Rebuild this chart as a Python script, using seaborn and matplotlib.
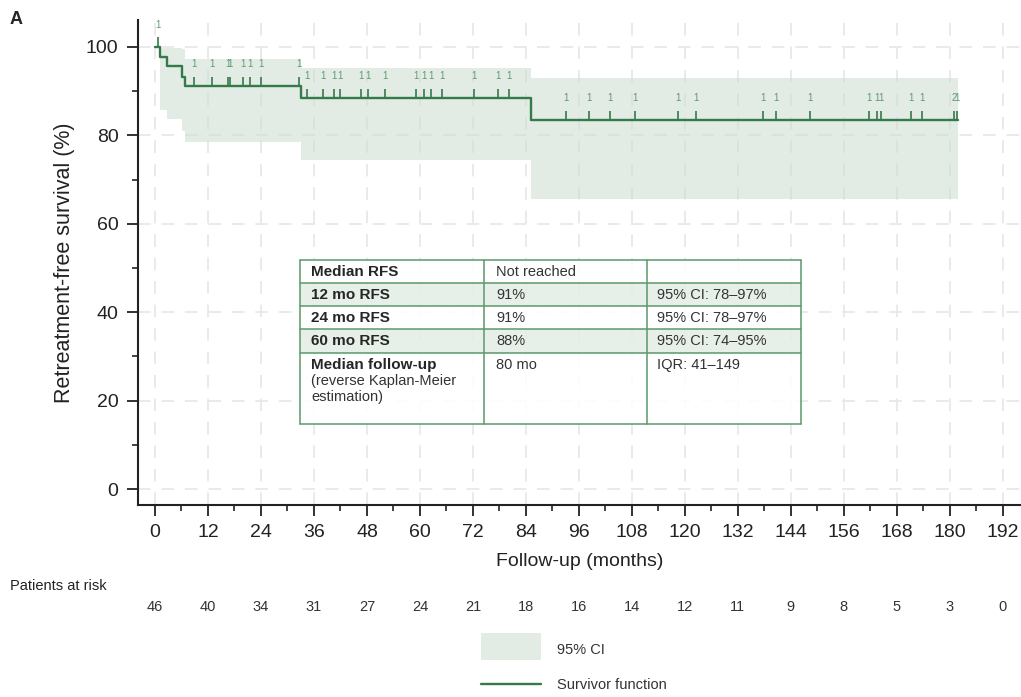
import numpy as np
import pandas as pd
import seaborn as sns
import matplotlib.pyplot as plt
from matplotlib.patches import Rectangle
from matplotlib.lines import Line2D
from matplotlib.ticker import MultipleLocator

# Survivor function (steps)
step_time = [0, 1.2, 2.75, 6.1, 6.7, 33.0, 85.1, 181.8]
step_surv = [100, 97.8, 95.6, 93.3, 91.1, 88.4, 83.4, 83.4]

# 95% CI band
ci_time = [1.2, 2.75, 6.1, 6.7, 33.0, 85.1, 181.8]
ci_upper = [99.8, 99.8, 99.6, 97.2, 95.2, 92.9, 92.9]
ci_lower = [85.7, 83.6, 81.0, 78.4, 74.4, 65.5, 65.5]

# Censored observations
censor_time = [0.6, 8.8, 13.0, 16.5, 16.9, 19.9, 21.5, 24.0, 32.7,
               34.4, 38.1, 40.6, 41.9, 46.6, 48.3, 52.0, 59.0, 60.9, 62.4, 65.1, 72.3, 77.6, 80.1,
               93.0, 98.3, 103.0, 108.6, 118.5, 122.6, 137.7, 140.6, 148.4,
               161.7, 163.5, 164.3, 171.3, 173.7, 181.0, 181.6]
censor_count = [1] * 37 + [2, 1]

risk_months = list(range(0, 193, 12))
at_risk = [46, 40, 34, 31, 27, 24, 21, 18, 16, 14, 12, 11, 9, 8, 5, 3, 0]

table_rows = [
    ("Median RFS", "", "Not reached", ""),
    ("12 mo RFS", "", "91%", "95% CI: 78\u201397%"),
    ("24 mo RFS", "", "91%", "95% CI: 78\u201397%"),
    ("60 mo RFS", "", "88%", "95% CI: 74\u201395%"),
    ("Median follow-up", "(reverse Kaplan-Meier\nestimation)", "80 mo", "IQR: 41\u2013149"),
]

sns.set_theme(style="ticks")
plt.rcParams['font.family'] = ['Liberation Sans', 'DejaVu Sans']

GREEN = "#357a4a"
BAND = "#cfdfd3"
W, H = 1021, 697

fig = plt.figure(figsize=(W / 100, H / 100), dpi=100)
ax = fig.add_axes([138 / W, 1 - 505 / H, (W - 138) / W, (505 - 20) / H])

def fx(px):
    return px / W

def fy(py):
    return 1 - py / H

ax.fill_between(ci_time, ci_lower, ci_upper, step="post", color=BAND, alpha=0.6,
                linewidth=0, zorder=1)
sns.lineplot(x=step_time, y=step_surv, drawstyle="steps-post", estimator=None,
             color=GREEN, linewidth=1.7, ax=ax, zorder=3)

# censor marks
st = np.array(step_time)
for t, c in zip(censor_time, censor_count):
    lvl = step_surv[np.searchsorted(st, t, side="right") - 1]
    ax.vlines(t, lvl, lvl + 2.2, color=GREEN, linewidth=1.2, zorder=3)
    ax.text(t, lvl + 5, str(c), color="#5f9a6e", fontsize=7, ha="center", va="center",
            zorder=3)

ax.set_xlim(-3.85, 196.1)
ax.set_ylim(-3.6, 106.1)
ax.xaxis.set_major_locator(MultipleLocator(12))
ax.xaxis.set_minor_locator(MultipleLocator(6))
ax.yaxis.set_major_locator(MultipleLocator(20))
ax.yaxis.set_minor_locator(MultipleLocator(10))
ax.grid(True, which="major", color="#e8e8e8", linestyle=(0, (7, 6)), linewidth=1.3, zorder=0)
ax.set_axisbelow(True)
for s in ["top", "right"]:
    ax.spines[s].set_visible(False)
for s in ["left", "bottom"]:
    ax.spines[s].set_linewidth(1.5)
    ax.spines[s].set_color("#222222")
ax.tick_params(which="major", length=8, width=1.3, labelsize=14, color="#222222",
               labelcolor="#222222", pad=6)
ax.tick_params(which="minor", length=4.5, width=1.2, color="#222222")
ax.set_xlabel("Follow-up (months)", fontsize=14, labelpad=8, color="#222222")
ax.set_ylabel("Retreatment-free survival (%)", fontsize=15.5, labelpad=8, color="#222222")

# summary table
col_x = [300, 484, 647, 801]
row_y = [260, 283, 306, 329, 353, 424]
shaded = [False, True, False, True, False]
for i, row in enumerate(table_rows):
    y0, y1 = row_y[i], row_y[i + 1]
    fc = "#e4ede6" if shaded[i] else "white"
    fig.patches.append(Rectangle((fx(col_x[0]), fy(y1)), fx(col_x[3] - col_x[0]), (y1 - y0) / H,
                                 transform=fig.transFigure, facecolor=fc, alpha=0.88,
                                 edgecolor="none", zorder=5))
    last = i == len(table_rows) - 1
    ty = y0 + 12 if last else (y0 + y1) / 2
    fig.text(fx(col_x[0] + 11), fy(ty), row[0], fontsize=11, fontweight="bold",
             ha="left", va="center", zorder=6)
    if row[1]:
        fig.text(fx(col_x[0] + 11), fy(ty + 9), row[1], fontsize=10.5, ha="left", va="top",
                 linespacing=1.2, color="#333333", zorder=6)
    fig.text(fx(col_x[1] + 12), fy(ty), row[2], fontsize=10.5, ha="left", va="center",
             color="#333333", zorder=6)
    fig.text(fx(col_x[2] + 10), fy(ty), row[3], fontsize=10.5, ha="left", va="center",
             color="#333333", zorder=6)
for y in row_y:
    fig.add_artist(Line2D([fx(col_x[0]), fx(col_x[3])], [fy(y), fy(y)], color="#5a9a6a",
                          linewidth=1.1, zorder=7))
for x in col_x:
    fig.add_artist(Line2D([fx(x), fx(x)], [fy(row_y[0]), fy(row_y[-1])], color="#5a9a6a",
                          linewidth=1.1, zorder=7))

# patients at risk
fig.text(fx(10), fy(586), "Patients at risk", fontsize=10.5, ha="left", va="center",
         color="#222222")
tr = ax.get_xaxis_transform()
for m, n in zip(risk_months, at_risk):
    ax.text(m, (505 - 607) / 485, str(n), transform=tr, fontsize=10.5, ha="center",
            va="center", color="#333333", clip_on=False)

# legend
fig.patches.append(Rectangle((fx(481), fy(660)), fx(60), 27 / H, transform=fig.transFigure,
                             facecolor=BAND, alpha=0.6, edgecolor="none"))
fig.text(fx(557), fy(650), "95% CI", fontsize=10.5, ha="left", va="center", color="#333333")
fig.add_artist(Line2D([fx(481), fx(541)], [fy(684), fy(684)], color=GREEN, linewidth=1.7))
fig.text(fx(557), fy(685), "Survivor function", fontsize=10.5, ha="left", va="center",
         color="#333333")

fig.text(fx(10), fy(20), "A", fontsize=13, fontweight="bold", ha="left", va="center")

fig.savefig("out.png", dpi=100)
